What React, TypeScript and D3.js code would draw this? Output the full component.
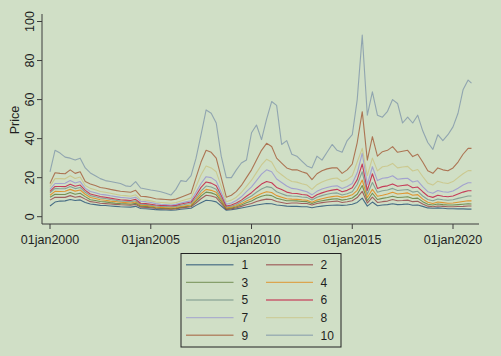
import React from "react";
import * as d3 from "d3";

// quarterly observations Jan 2000 .. Oct 2020, plus Dec 2020
const monthOffsets: number[] = [...d3.range(0, 250, 3), 251];
const dates: Date[] = monthOffsets.map((m) => new Date(2000, m, 1));

const seriesNames = ["1", "2", "3", "4", "5", "6", "7", "8", "9", "10"];
const seriesColors = [
  "#1a476f", "#90353b", "#55752f", "#e37e00", "#6e8e84",
  "#c10534", "#938dd2", "#cac27e", "#a0522d", "#7b92a8",
];

const s1 = [5.5, 7.5, 8, 8.1, 8.8, 8.3, 8.6, 7.3, 6.5, 6.2, 5.8, 5.7, 5.5, 5.3, 5.1, 5, 4.9, 5.3, 4.2, 4.1, 3.9, 3.6, 3.5, 3.4, 3.3, 3.4, 3.8, 4.1, 4.3, 5.8, 7.2, 8.4, 8.2, 7.6, 5.5, 3.3, 3.6, 4, 4.5, 5, 5.5, 6, 6.4, 6.8, 6.6, 6, 5.7, 5.4, 5.3, 5.3, 5.1, 5.1, 4.6, 5.1, 5.4, 5.7, 5.9, 6, 5.8, 6, 6.4, 7.3, 9.5, 5.4, 7.5, 5.6, 6, 6.2, 6.6, 6.2, 6.3, 6.5, 5.9, 6, 5.3, 4.5, 4.3, 4.5, 4.3, 4.1, 4.1, 4, 4, 3.9, 3.9];
const s2 = [8.5, 10, 9.9, 9.9, 10.8, 10, 10.4, 9, 7.7, 7.4, 6.9, 6.7, 6.5, 6.3, 6.1, 6, 5.9, 6.3, 4.9, 4.8, 4.6, 4.2, 4.1, 4, 3.9, 4, 4.5, 4.8, 5.1, 7, 9.2, 11, 10.6, 9.8, 6.8, 3.7, 4, 4.6, 5.3, 6.1, 6.8, 7.8, 8.5, 9, 8.8, 7.8, 7.3, 6.8, 7, 7, 6.8, 6.8, 6, 6.8, 7.2, 7.5, 7.8, 8, 7.3, 7.7, 8.2, 9.8, 13, 7, 10, 7.3, 7.7, 8, 8.8, 8.2, 8.3, 8.5, 7.7, 7.9, 6.5, 5.4, 5.1, 5.5, 5.3, 5.1, 5.1, 5.2, 5.3, 5.5, 5.5];
const s3 = [10, 11.5, 11.4, 11.4, 12.4, 11.5, 12, 10.3, 8.7, 8.3, 7.8, 7.6, 7.2, 6.9, 6.7, 6.6, 6.4, 6.9, 5.4, 5.3, 5, 4.6, 4.4, 4.3, 4.1, 4.3, 4.8, 5.2, 5.5, 8, 10.6, 12.6, 12.2, 11.2, 7.8, 4.1, 4.4, 5.1, 6, 7.1, 8.1, 9.4, 10.5, 11.1, 10.8, 9.5, 8.8, 8.2, 8.2, 8.1, 7.8, 7.7, 6.8, 7.7, 8.2, 8.6, 9, 9.2, 8.5, 8.9, 9.6, 11.5, 16, 8.2, 12, 8.8, 9.4, 9.8, 10.5, 9.8, 10, 10.2, 9.3, 9.5, 7.7, 6.4, 6, 6.5, 6.2, 6, 6, 6.2, 6.4, 6.6, 6.5];
const s4 = [11, 13, 12.9, 13, 14, 13.1, 13.7, 11.5, 9.8, 9.3, 8.7, 8.4, 8, 7.7, 7.4, 7.2, 7, 7.5, 5.9, 5.8, 5.4, 5, 4.8, 4.6, 4.5, 4.7, 5.2, 5.6, 6, 8.8, 11.8, 14, 13.5, 12.5, 8.6, 4.5, 4.8, 5.6, 6.7, 8, 9.2, 10.6, 11.9, 12.8, 12.4, 10.8, 10, 9.2, 9, 8.9, 8.6, 8.4, 7.4, 8.5, 9.2, 9.8, 10.3, 10.6, 9.9, 10.4, 11.2, 13.5, 18.8, 9.8, 14, 10.5, 11, 11.6, 12.5, 11.6, 11.9, 12.2, 11, 11.3, 9, 7.4, 6.8, 7.5, 7.2, 6.9, 7, 7.4, 7.8, 8.2, 8.1];
const s5 = [12.2, 14.5, 14.3, 14.3, 15.5, 14.4, 15, 12.5, 10.8, 10.2, 9.6, 9.3, 8.8, 8.4, 8, 7.9, 7.7, 8.2, 6.4, 6.3, 5.9, 5.5, 5.3, 5.2, 5.1, 5.3, 5.9, 6.4, 6.8, 9.8, 13.2, 15.7, 15.2, 14, 9.6, 5, 5.4, 6.3, 7.6, 9.2, 10.6, 12.5, 14.2, 15.4, 14.9, 12.8, 11.8, 10.8, 10.6, 10.5, 10.1, 9.9, 8.6, 10, 10.8, 11.5, 12, 12.2, 11.1, 11.8, 12.8, 16.5, 23, 11.5, 17.5, 12.5, 13.3, 13.7, 14.5, 13.4, 13.7, 13.9, 12.6, 13, 10.6, 8.8, 8.2, 9.1, 8.7, 8.4, 8.7, 9.4, 10, 10.6, 10.6];
const s6 = [13, 15.5, 15.5, 15.4, 16.6, 15.6, 16.2, 13.5, 11.6, 11, 10.3, 10, 9.5, 9.1, 8.7, 8.5, 8.3, 8.9, 6.9, 6.8, 6.4, 6, 5.8, 5.7, 5.6, 5.8, 6.5, 7, 7.5, 11, 15, 17.8, 17.2, 15.8, 10.8, 5.5, 6, 7, 8.5, 10.5, 12.3, 14.6, 16.7, 18, 17.4, 15, 13.9, 12.6, 12, 11.9, 11.4, 11.1, 9.6, 11.2, 12.2, 13, 13.6, 14, 12.8, 13.5, 14.8, 19, 27, 13.5, 22, 14.5, 15.4, 15.8, 16.8, 15.6, 16, 16.3, 14.8, 15.2, 12.8, 10.6, 9.9, 11, 10.5, 10.2, 10.6, 11.6, 12.6, 13.3, 13.3];
const s7 = [14, 17, 17, 17.1, 18.5, 17.3, 18, 14.5, 12.9, 12.3, 11.5, 11.2, 10.7, 10.3, 9.9, 9.7, 9.4, 10, 7.9, 7.7, 7.3, 6.7, 6.4, 6.2, 6, 6.3, 7, 7.6, 8.2, 12.5, 17, 20.5, 20, 18.2, 12.4, 6.4, 7, 8.3, 10.2, 12.8, 15.3, 18.5, 21.8, 24, 23, 19.3, 17.5, 15.7, 14.5, 14.2, 13.5, 12.8, 11.2, 13, 14.2, 15, 15.6, 15.8, 14.5, 15.5, 17, 22.5, 32.5, 16.5, 25.6, 18.5, 19.7, 20, 21, 19.2, 19.5, 19.7, 17.8, 18.4, 15.4, 12.8, 12, 13.4, 12.8, 12.5, 13.2, 14.6, 16.2, 17.4, 17.4];
const s8 = [15.5, 19.5, 19.5, 19.4, 21, 19.6, 20.3, 16, 14.5, 13.8, 12.9, 12.5, 12, 11.5, 11, 10.8, 10.5, 11.2, 8.7, 8.5, 8.1, 7.5, 7.3, 7.1, 6.9, 7.2, 8, 8.8, 9.5, 15.5, 21.5, 26, 25, 23, 15.5, 7.7, 8.5, 10, 12.4, 15.5, 18.7, 22.6, 26.5, 29.4, 28, 23.5, 21.5, 19.5, 18, 17.7, 16.9, 16.2, 14, 16.4, 17.8, 18.8, 19.5, 19.8, 18, 19, 21, 28, 35, 21, 30, 23.5, 25.6, 26, 27.3, 25, 25.5, 25.8, 23.4, 24.2, 20.6, 17.2, 16.2, 18.2, 17.4, 17, 18, 20, 22, 23.6, 23.6];
const s9 = [17, 22.5, 22.2, 22, 24, 22.2, 23, 18, 16.8, 16, 15, 14.6, 14, 13.5, 13, 12.8, 12.5, 13.5, 10.5, 10.3, 9.8, 9.2, 9, 8.8, 8.6, 9, 10, 11, 12, 20, 28, 34, 33, 30, 20, 10, 11, 13, 16, 20, 24, 29, 34, 37.6, 36, 30, 27.5, 25, 24, 24, 23, 22.2, 19, 22, 23.5, 24.5, 25, 25, 22.2, 24, 27, 38, 53.8, 29, 41, 31, 33.3, 34, 35.9, 33, 33.5, 34, 30.8, 32, 28, 23.5, 22.2, 25, 24, 23.5, 25, 28, 32, 35, 35];
const s10 = [23, 34, 32.6, 30.5, 30, 29, 30, 25, 22.4, 21, 19.5, 18.5, 18, 17.5, 17, 15.8, 15.5, 18, 14.7, 14.2, 13.7, 13.3, 12.8, 12, 11.1, 14, 18.5, 18, 21, 30, 42, 54.7, 53, 48, 31, 20, 20, 24, 27.5, 29, 43, 47, 39.5, 50, 59, 57, 37, 39, 32, 31, 28.5, 26, 25, 31, 29, 33, 37, 34, 33, 39, 42, 60, 93, 52, 64, 52, 51, 54, 60, 58, 48, 51, 48, 52, 44, 38, 34.5, 42, 39, 42, 46, 53, 65, 70, 68.4];

const seriesValues = [s1, s2, s3, s4, s5, s6, s7, s8, s9, s10];

const yTicks = [0, 20, 40, 60, 80, 100];
const xTickYears = [2000, 2005, 2010, 2015, 2020];
const xTickLabels = ["01jan2000", "01jan2005", "01jan2010", "01jan2015", "01jan2020"];
const yTitle = "Price";

const BG = "#d0dfc6";
const AXIS = "#3c3c3c";
const FONT = "'Liberation Sans', Arial, Helvetica, sans-serif";

export default function App() {
  const W = 501;
  const H = 356;
  const x = d3
    .scaleTime()
    .domain([new Date(2000, 0, 1), new Date(2020, 0, 1)])
    .range([50, 453]);
  const y = d3.scaleLinear().domain([0, 100]).range([216.7, 21.5]);

  const plotLeft = 42;
  const plotRight = 479;
  const plotTop = 14;
  const plotBottom = 224;

  const makePath = (vals: number[]) => {
    const n = Math.min(vals.length, dates.length);
    const pts = d3.range(n).map((i) => [x(dates[i]), y(vals[i])] as [number, number]);
    return d3.line()(pts) || "";
  };

  const legX = 181;
  const legY = 253.5;
  const legW = 160;
  const legH = 93.5;
  const rowY0 = 264.7;
  const rowStep = 17.65;

  return (
    <svg
      width={W}
      height={H}
      style={{ position: "absolute", left: 0, top: 0, display: "block" }}
      fontFamily={FONT}
    >
      <rect x={0} y={0} width={W} height={H} fill={BG} />

      <g fill="none" strokeWidth={1.1} strokeLinejoin="round">
        {seriesValues.map((vals, i) => (
          <path key={i} d={makePath(vals)} stroke={seriesColors[i]} strokeOpacity={0.75} />
        ))}
      </g>

      <line x1={plotLeft} x2={plotLeft} y1={plotTop} y2={plotBottom} stroke={AXIS} strokeWidth={1} />
      {yTicks.map((t) => (
        <g key={t}>
          <line x1={plotLeft - 5} x2={plotLeft} y1={y(t)} y2={y(t)} stroke={AXIS} strokeWidth={1} />
          <text
            transform={`translate(33.5,${y(t)}) rotate(-90)`}
            textAnchor="middle"
            fontSize={12.5}
            fill="#1e1e1e"
          >
            {t}
          </text>
        </g>
      ))}
      <text
        transform={`translate(18.5,120) rotate(-90)`}
        textAnchor="middle"
        fontSize={12.5}
        fill="#1e1e1e"
      >
        {yTitle}
      </text>

      <line x1={plotLeft} x2={plotRight} y1={plotBottom} y2={plotBottom} stroke={AXIS} strokeWidth={1} />
      {xTickYears.map((yr, i) => {
        const px = x(new Date(yr, 0, 1));
        return (
          <g key={yr}>
            <line x1={px} x2={px} y1={plotBottom} y2={plotBottom + 5} stroke={AXIS} strokeWidth={1} />
            <text x={px} y={244} textAnchor="middle" fontSize={12.5} fill="#1e1e1e">
              {xTickLabels[i]}
            </text>
          </g>
        );
      })}

      <rect x={legX} y={legY} width={legW} height={legH} fill={BG} stroke="#222" strokeWidth={1} />
      {seriesNames.map((name, i) => {
        const row = Math.floor(i / 2);
        const col = i % 2;
        const ly = rowY0 + row * rowStep;
        const lx1 = col === 0 ? 186 : 266;
        const lx2 = col === 0 ? 233.5 : 313;
        const tx = col === 0 ? 241.5 : 320.5;
        return (
          <g key={name}>
            <line x1={lx1} x2={lx2} y1={ly} y2={ly} stroke={seriesColors[i]} strokeOpacity={0.6} strokeWidth={1.4} />
            <text x={tx} y={ly + 4.3} fontSize={12} fill="#1e1e1e">
              {name}
            </text>
          </g>
        );
      })}
    </svg>
  );
}
